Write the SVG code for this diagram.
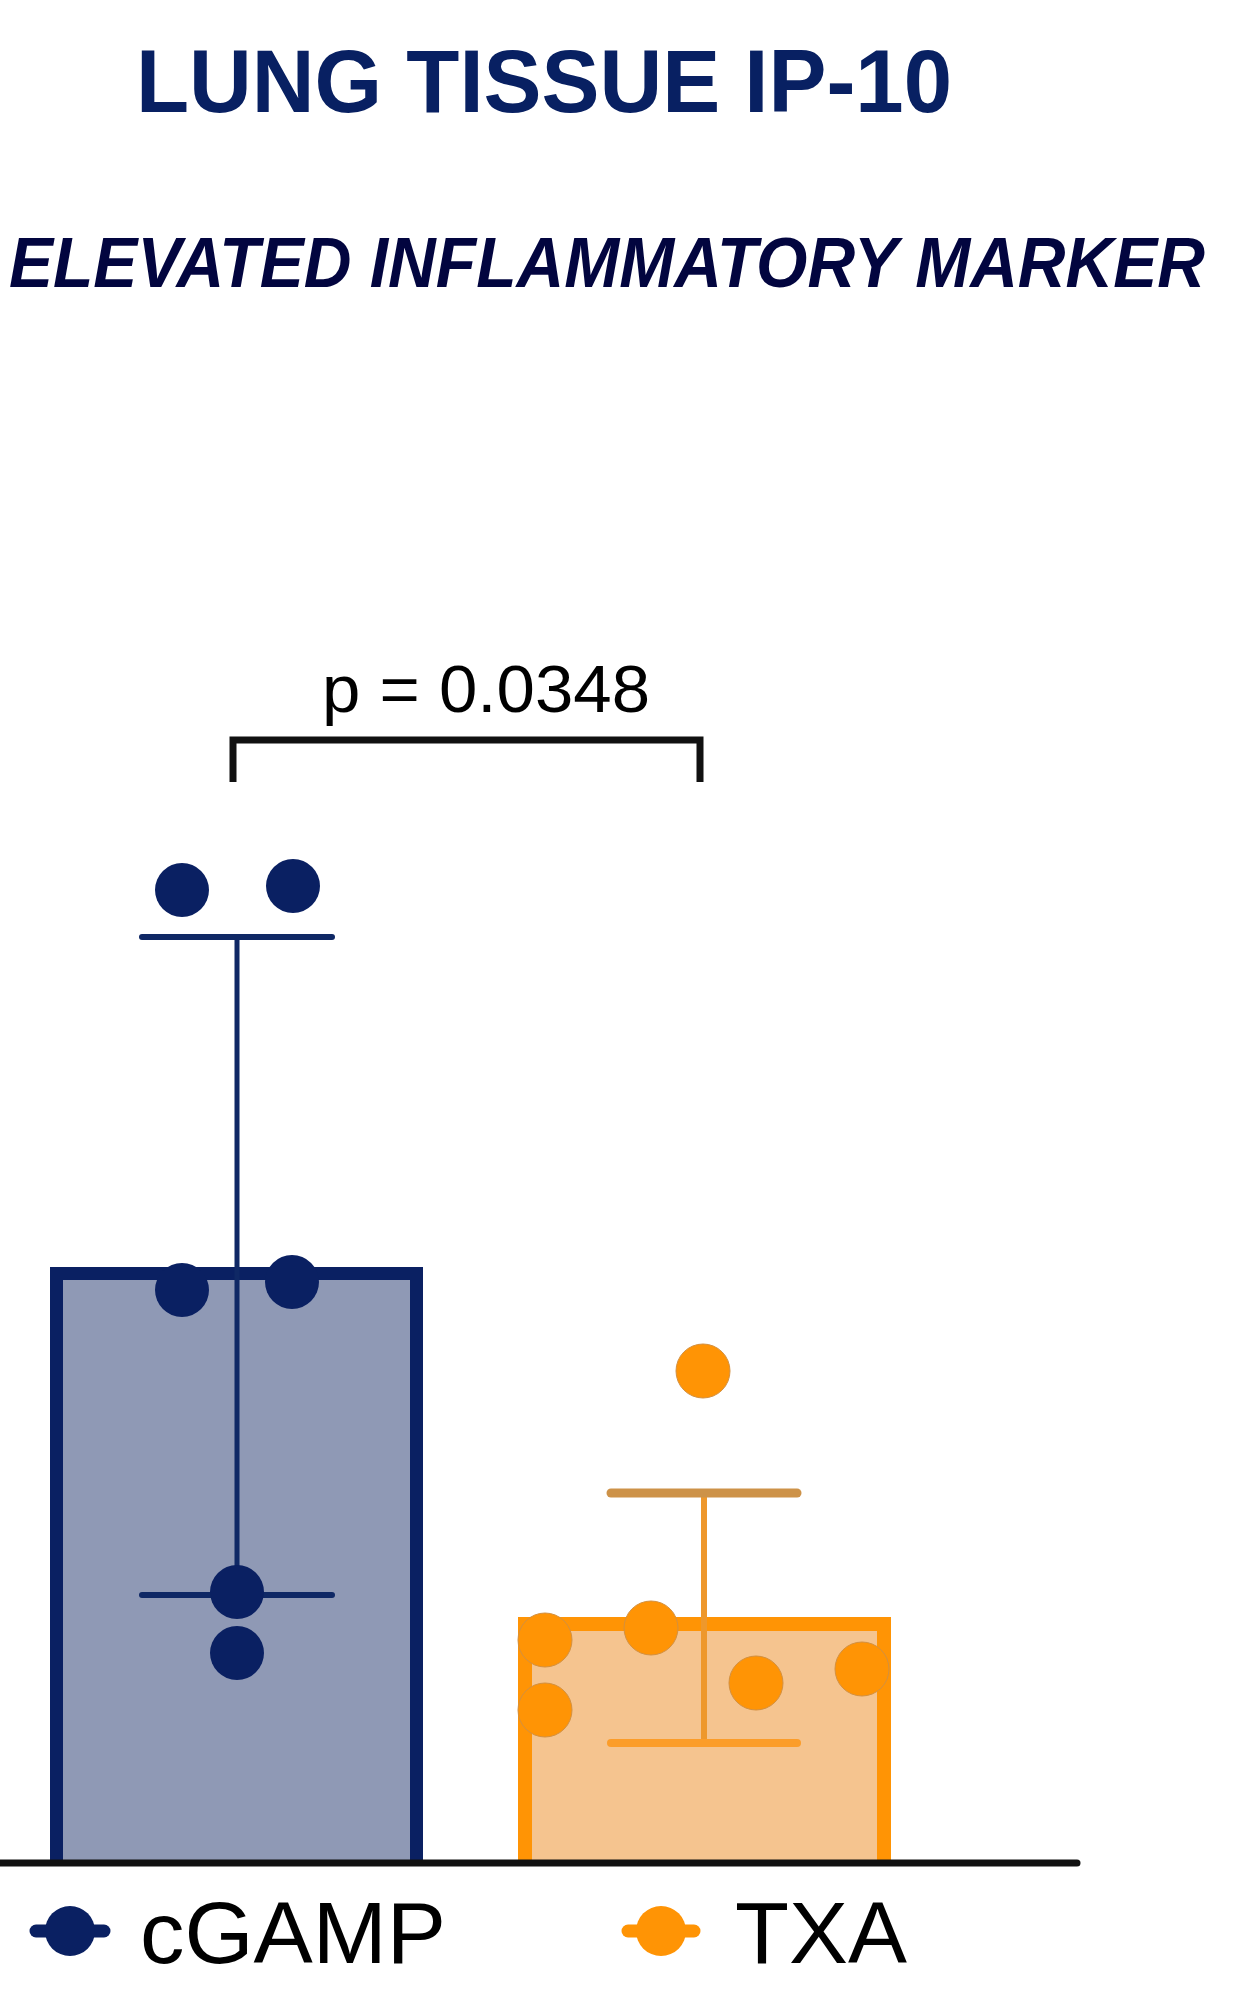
<svg xmlns="http://www.w3.org/2000/svg" width="1237" height="1996" viewBox="0 0 1237 1996">
<style>
.title{font-family:"Liberation Sans",Arial,sans-serif;font-weight:bold;fill:#082062}
.sub{font-family:"Liberation Sans",Arial,sans-serif;font-weight:bold;font-style:italic;fill:#02053f}
.lbl{font-family:"Liberation Sans",Arial,sans-serif;fill:#000}
.navy{fill:#0a2062}
.orange{fill:#ff9405;stroke:#d39040;stroke-width:1}
</style>
<rect x="0" y="0" width="1237" height="1996" fill="#fff"/>
<g id="title">
<text class="title" x="136" y="112" font-size="89" textLength="816" lengthAdjust="spacingAndGlyphs">LUNG TISSUE IP-10</text>
</g>
<g id="subtitle">
<text class="sub" transform="scale(1,1.077)" x="9" y="266.5" font-size="65" textLength="1196" lengthAdjust="spacingAndGlyphs">ELEVATED INFLAMMATORY MARKER</text>
</g>
<g id="bar-cgamp">
<rect x="56.5" y="1273.5" width="360" height="590" fill="#8f99b5"/>
<path d="M56.5 1863 V1273.5 H416.5 V1863" fill="none" stroke="#0a2062" stroke-width="13"/>
</g>
<g id="bar-txa">
<rect x="525" y="1624" width="359" height="239" fill="#f5c48f"/>
<path d="M525 1863 V1624 H884 V1863" fill="none" stroke="#ff9405" stroke-width="14"/>
</g>
<g id="errorbar-cgamp" stroke="#0f2865" fill="none">
<line x1="237" y1="937" x2="237" y2="1595" stroke-width="5"/>
<line x1="142" y1="937" x2="332" y2="937" stroke-width="6" stroke-linecap="round"/>
<line x1="142" y1="1595" x2="332" y2="1595" stroke-width="6" stroke-linecap="round"/>
</g>
<g id="errorbar-txa" fill="none">
<line x1="704" y1="1493" x2="704" y2="1743" stroke="#ee982c" stroke-width="6"/>
<line x1="611" y1="1493" x2="797" y2="1493" stroke="#cd9248" stroke-width="9" stroke-linecap="round"/>
<line x1="611" y1="1743" x2="797" y2="1743" stroke="#fb9d2a" stroke-width="8" stroke-linecap="round"/>
</g>
<g id="dots-cgamp" class="navy">
<circle cx="182" cy="890" r="27"/>
<circle cx="293" cy="886" r="27"/>
<circle cx="182" cy="1290" r="27"/>
<circle cx="292" cy="1282" r="27"/>
<circle cx="237" cy="1592" r="27"/>
<circle cx="237" cy="1653" r="27"/>
</g>
<g id="dots-txa" class="orange">
<circle cx="703" cy="1371" r="27"/>
<circle cx="545" cy="1640" r="27"/>
<circle cx="651" cy="1628" r="27"/>
<circle cx="545" cy="1710" r="27"/>
<circle cx="756" cy="1683" r="27"/>
<circle cx="862" cy="1669" r="27"/>
</g>
<g id="connectors">
<path d="M233 782 V740 H700 V782" fill="none" stroke="#111" stroke-width="7"/>
<line x1="0" y1="1863" x2="1077" y2="1863" stroke="#111" stroke-width="7" stroke-linecap="round"/>
</g>
<g id="pvalue">
<text class="lbl" x="322" y="712" font-size="67" textLength="328" lengthAdjust="spacingAndGlyphs">p = 0.0348</text>
</g>
<g id="legend-cgamp">
<line x1="36" y1="1931" x2="104" y2="1931" stroke="#0a2062" stroke-width="13" stroke-linecap="round"/>
<circle cx="70" cy="1931" r="25" class="navy"/>
<text class="lbl" x="140" y="1963" font-size="88" textLength="306" lengthAdjust="spacingAndGlyphs">cGAMP</text>
</g>
<g id="legend-txa">
<line x1="628" y1="1931" x2="694" y2="1931" stroke="#ff9405" stroke-width="13" stroke-linecap="round"/>
<circle cx="661" cy="1931" r="25" fill="#ff9405"/>
<text class="lbl" x="735" y="1963" font-size="88" textLength="172" lengthAdjust="spacingAndGlyphs">TXA</text>
</g>
</svg>
